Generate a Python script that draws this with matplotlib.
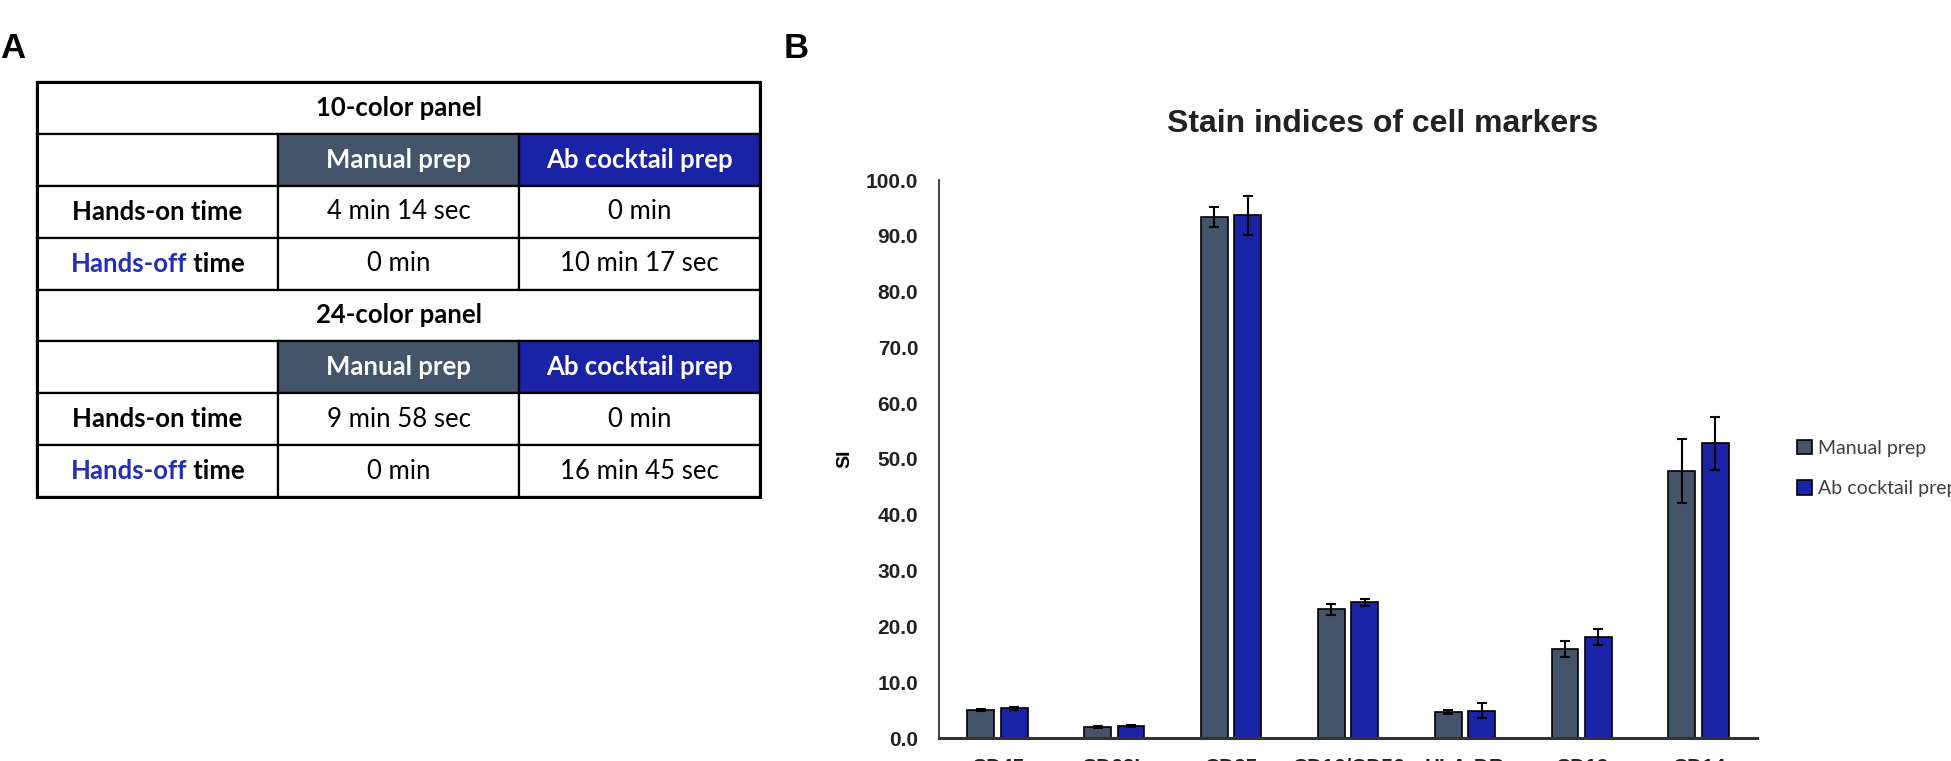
import matplotlib
matplotlib.use("Agg")
import numpy as np
import matplotlib.pyplot as plt
from matplotlib.patches import Rectangle, Patch

W, H = 1951, 761

# panel A table
panels = ["10-color panel", "24-color panel"]
methods = ["Manual prep", "Ab cocktail prep"]
row_names = ["Hands-on time", "Hands-off time"]
times_10 = [["4 min 14 sec", "0 min"], ["0 min", "10 min 17 sec"]]
times_24 = [["9 min 58 sec", "0 min"], ["0 min", "16 min 45 sec"]]

# panel B bars
markers = ["CD45", "CD62L", "CD25", "CD16/CD56", "HLA-DR", "CD19", "CD14"]
manual_si = [5.0, 2.0, 93.3, 23.1, 4.7, 16.0, 47.9]
manual_err = [0.2, 0.2, 1.8, 1.0, 0.4, 1.4, 5.7]
ab_si = [5.3, 2.1, 93.7, 24.3, 4.9, 18.1, 52.8]
ab_err = [0.2, 0.15, 3.5, 0.6, 1.4, 1.4, 4.7]

c_manual = "#44546A"
c_ab = "#1A22A6"
c_blue_txt = "#2330B5"

fig = plt.figure(figsize=(W / 100, H / 100), dpi=100)

fig.text(0 / W, 1 - 48 / H, "A", fontsize=25, fontweight="bold",
         family="Liberation Sans", ha="left", va="center")
fig.text(784 / W, 1 - 48 / H, "B", fontsize=25, fontweight="bold",
         family="Liberation Sans", ha="left", va="center")

# ---- table ----
ax_t = fig.add_axes([37 / W, 1 - 497 / H, 723 / W, 415 / H])
ax_t.set_xlim(0, 3)
ax_t.set_ylim(8, 0)
ax_t.axis("off")
tfont = dict(family="Lato", fontsize=18.5)

def cell(x, y, w, fc="white"):
    ax_t.add_patch(Rectangle((x, y), w, 1, facecolor=fc, edgecolor="black",
                             lw=1.6, clip_on=False))

def hands_off(cx, cy):
    r = fig.canvas.get_renderer()
    t1 = ax_t.text(cx, cy, "Hands-off", color=c_blue_txt, fontweight="bold",
                   ha="left", va="center", **tfont)
    t2 = ax_t.annotate(" time", xy=(1, 0.5), xycoords=t1, ha="left",
                       va="center", fontweight="bold", **tfont)
    w = t1.get_window_extent(r).width + t2.get_window_extent(r).width
    inv = ax_t.transData.inverted()
    px = ax_t.transData.transform((cx, cy))
    t1.set_x(inv.transform((px[0] - w / 2, px[1]))[0])

for p, (name, times) in enumerate(zip(panels, [times_10, times_24])):
    y0 = p * 4
    cell(0, y0, 3)
    ax_t.text(1.5, y0 + 0.5, name, ha="center", va="center",
              fontweight="bold", **tfont)
    cell(0, y0 + 1, 1)
    for j, (m, fc) in enumerate(zip(methods, [c_manual, c_ab])):
        cell(1 + j, y0 + 1, 1, fc)
        ax_t.text(1.5 + j, y0 + 1.5, m, ha="center", va="center",
                  color="white", fontweight="bold", **tfont)
    for i, rn in enumerate(row_names):
        yy = y0 + 2 + i
        cell(0, yy, 1)
        if i == 0:
            ax_t.text(0.5, yy + 0.5, rn, ha="center", va="center",
                      fontweight="bold", **tfont)
        else:
            hands_off(0.5, yy + 0.5)
        for j in range(2):
            cell(1 + j, yy, 1)
            ax_t.text(1.5 + j, yy + 0.5, times[i][j], ha="center",
                      va="center", **tfont)
ax_t.add_patch(Rectangle((0, 0), 3, 8, fill=False, edgecolor="black",
                         lw=2.2, clip_on=False))

# ---- bar chart ----
ax = fig.add_axes([939 / W, 1 - 738 / H, 818 / W, 558 / H])
x = np.arange(len(markers))
bw = 0.23
off = 0.143
ekw = dict(elinewidth=1.5, capthick=1.5, ecolor="black")
ax.bar(x - off, manual_si, bw, yerr=manual_err, color=c_manual,
       edgecolor="black", lw=1.2, capsize=3.5, error_kw=ekw, label="Manual prep")
ax.bar(x + off, ab_si, bw, yerr=ab_err, color=c_ab, edgecolor="black",
       lw=1.2, capsize=3.5, error_kw=ekw, label="Ab cocktail prep")
ax.set_xlim(-0.5, len(markers) - 0.5)
ax.set_ylim(0, 100)
ax.set_yticks(np.arange(0, 101, 10))
ax.set_yticklabels([f"{v:.1f}" for v in np.arange(0, 101, 10)])
ax.set_xticks(x)
ax.set_xticklabels(markers)
for s in ["top", "right"]:
    ax.spines[s].set_visible(False)
ax.spines["left"].set_color("#333333")
ax.spines["left"].set_linewidth(1.3)
ax.spines["bottom"].set_color("#333333")
ax.spines["bottom"].set_linewidth(2.2)
ax.tick_params(axis="y", length=0, pad=15, labelsize=15, labelcolor="#222222")
ax.tick_params(axis="x", length=0, pad=14.5, labelsize=15, labelcolor="#222222")
for lab in ax.get_xticklabels() + ax.get_yticklabels():
    lab.set_fontweight("bold")
    lab.set_family("Liberation Sans")
ax.set_ylabel("SI", fontsize=14, fontweight="bold", family="Liberation Sans")
ax.yaxis.set_label_coords(-0.105, 0.5)

fig.text(1383 / W, 1 - 124 / H, "Stain indices of cell markers", ha="center",
         va="center", fontsize=23, fontweight="bold", family="Liberation Sans",
         color="#222222")

handles = [Patch(facecolor=c_manual, edgecolor="black", lw=1.2),
           Patch(facecolor=c_ab, edgecolor="black", lw=1.2)]
fig.legend(handles, ["Manual prep", "Ab cocktail prep"], loc="upper left",
           bbox_to_anchor=(1797 / W, 1 - 440 / H), frameon=False,
           borderpad=0, borderaxespad=0, handlelength=0.77, handleheight=0.77,
           handletextpad=0.3, labelspacing=1.2,
           prop=dict(family="Lato", size=14), labelcolor="#404040")

fig.savefig("out.png", dpi=100)
